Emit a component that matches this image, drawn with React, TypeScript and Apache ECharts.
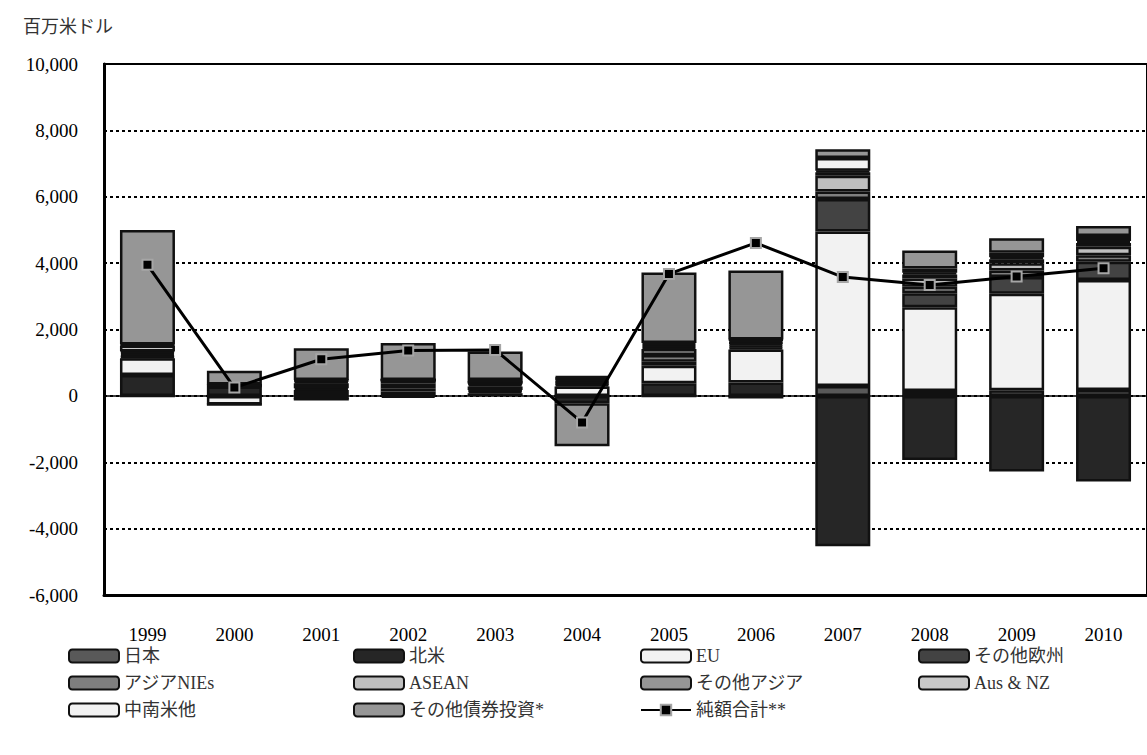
import React, { useEffect, useRef } from "react";
import * as echarts from "echarts";

const years = ["1999", "2000", "2001", "2002", "2003", "2004", "2005", "2006", "2007", "2008", "2009", "2010"];
const yTicks = [-6000, -4000, -2000, 0, 2000, 4000, 6000, 8000, 10000];

const japan = [0, 0, 90, -60, 80, 0, 0, -80, 300, 150, 170, 180];
const northAmerica = [630, 280, -100, 130, 60, -220, 380, 400, -4530, -1930, -2280, -2580];
const eu = [500, -260, 0, 100, 40, 280, 530, 1000, 4650, 2520, 2910, 3310];
const otherEurope = [50, 0, 90, 150, 100, 60, 120, 60, 980, 420, 500, 550];
const asiaNIEs = [50, 20, 50, 80, 60, 50, 200, 60, 230, 200, 200, 200];
const asean = [60, 10, 150, 20, 30, 50, 180, 60, 475, 250, 220, 250];
const otherAsia = [50, 10, 50, 0, 30, 60, 60, 40, 100, 120, 120, 120];
const ausNz = [180, 0, 30, 0, 0, 40, 60, 60, 50, 50, 60, 60];
const latinAmerica = [30, 20, 20, 0, 80, 60, 60, 20, 380, 130, 130, 150];
const otherBonds = [3450, 420, 955, 1110, 860, -1300, 2125, 2075, 270, 540, 440, 300];
const netTotal = [3950, 250, 1105, 1365, 1385, -800, 3675, 4610, 3580, 3343, 3595, 3845];

const barDefs: [string, number[], string][] = [
  ["日本", japan, "#595959"],
  ["北米", northAmerica, "#262626"],
  ["EU", eu, "#f2f2f2"],
  ["その他欧州", otherEurope, "#434343"],
  ["アジアNIEs", asiaNIEs, "#7f7f7f"],
  ["ASEAN", asean, "#bfbfbf"],
  ["その他アジア", otherAsia, "#969696"],
  ["Aus & NZ", ausNz, "#c8c8c8"],
  ["中南米他", latinAmerica, "#f2f2f2"],
  ["その他債券投資*", otherBonds, "#969696"],
];
const lineName = "純額合計**";

const FONT = "'Liberation Serif', 'Noto Sans CJK JP', serif";

export default function App() {
  const ref = useRef<HTMLDivElement>(null);
  useEffect(() => {
    if (!ref.current) return;
    const chart = echarts.init(ref.current, null, { renderer: "svg" });
    const series: any[] = barDefs.map(([name, data, color], i) => ({
      name,
      type: "bar",
      stack: "total",
      data,
      barWidth: 55,
      itemStyle: { color, borderColor: "#111", borderWidth: 2.5 },
      z: 2,
      ...(i === 0
        ? {
            markLine: {
              silent: true,
              symbol: "none",
              label: { show: false },
              lineStyle: { color: "#000", type: "solid", width: 1.5 },
              data: [{ yAxis: 0 }],
              z: 1,
            },
          }
        : {}),
    }));
    series.push({
      name: lineName,
      type: "line",
      data: netTotal,
      symbol: "rect",
      symbolSize: 10,
      lineStyle: { color: "#000", width: 3 },
      itemStyle: { color: "#000", borderColor: "#a6a6a6", borderWidth: 2 },
      z: 5,
    });

    const legendBase = {
      orient: "vertical",
      top: 646,
      padding: 0,
      itemWidth: 50,
      itemHeight: 13,
      itemGap: 7,
      textStyle: { fontFamily: FONT, fontSize: 18, fontWeight: "normal", color: "#333", lineHeight: 20 },
    };

    chart.setOption({
      animation: false,
      backgroundColor: "#fff",
      textStyle: { fontFamily: FONT, fontWeight: "normal" },
      grid: { left: 104, right: -25, top: 64, bottom: 160, show: true, borderColor: "#000", borderWidth: 2 },
      legend: [
        { ...legendBase, left: 68, data: ["日本", "アジアNIEs", "中南米他"] },
        { ...legendBase, left: 353, data: ["北米", "ASEAN", "その他債券投資*"] },
        { ...legendBase, left: 640, data: ["EU", "その他アジア", lineName] },
        { ...legendBase, left: 918, data: ["その他欧州", "Aus & NZ"] },
      ],
      graphic: [
        {
          type: "text",
          left: 23,
          top: 16,
          style: {
            text: "百万米ドル",
            fontFamily: "'Noto Sans CJK JP', sans-serif",
            fontSize: 18,
            fontWeight: "normal",
            fill: "#333",
          },
        },
      ],
      xAxis: {
        type: "category",
        data: years,
        axisLine: { onZero: false, lineStyle: { color: "#000", width: 3 } },
        axisTick: { show: false },
        axisLabel: { margin: 30, fontFamily: FONT, fontSize: 19, fontWeight: "normal", color: "#000" },
      },
      yAxis: {
        type: "value",
        min: yTicks[0],
        max: yTicks[yTicks.length - 1],
        interval: 2000,
        axisLine: { show: true, lineStyle: { color: "#000", width: 3 } },
        axisTick: { show: false },
        splitLine: { show: true, lineStyle: { color: "#000", type: [3, 3], width: 2 } },
        axisLabel: {
          margin: 26,
          fontFamily: FONT,
          fontSize: 19,
          fontWeight: "normal",
          color: "#000",
          formatter: (v: number) => v.toLocaleString("en-US"),
        },
      },
      series,
    });
    return () => chart.dispose();
  }, []);
  return <div ref={ref} style={{ position: "absolute", left: 0, top: 0, width: 1147, height: 755 }} />;
}
